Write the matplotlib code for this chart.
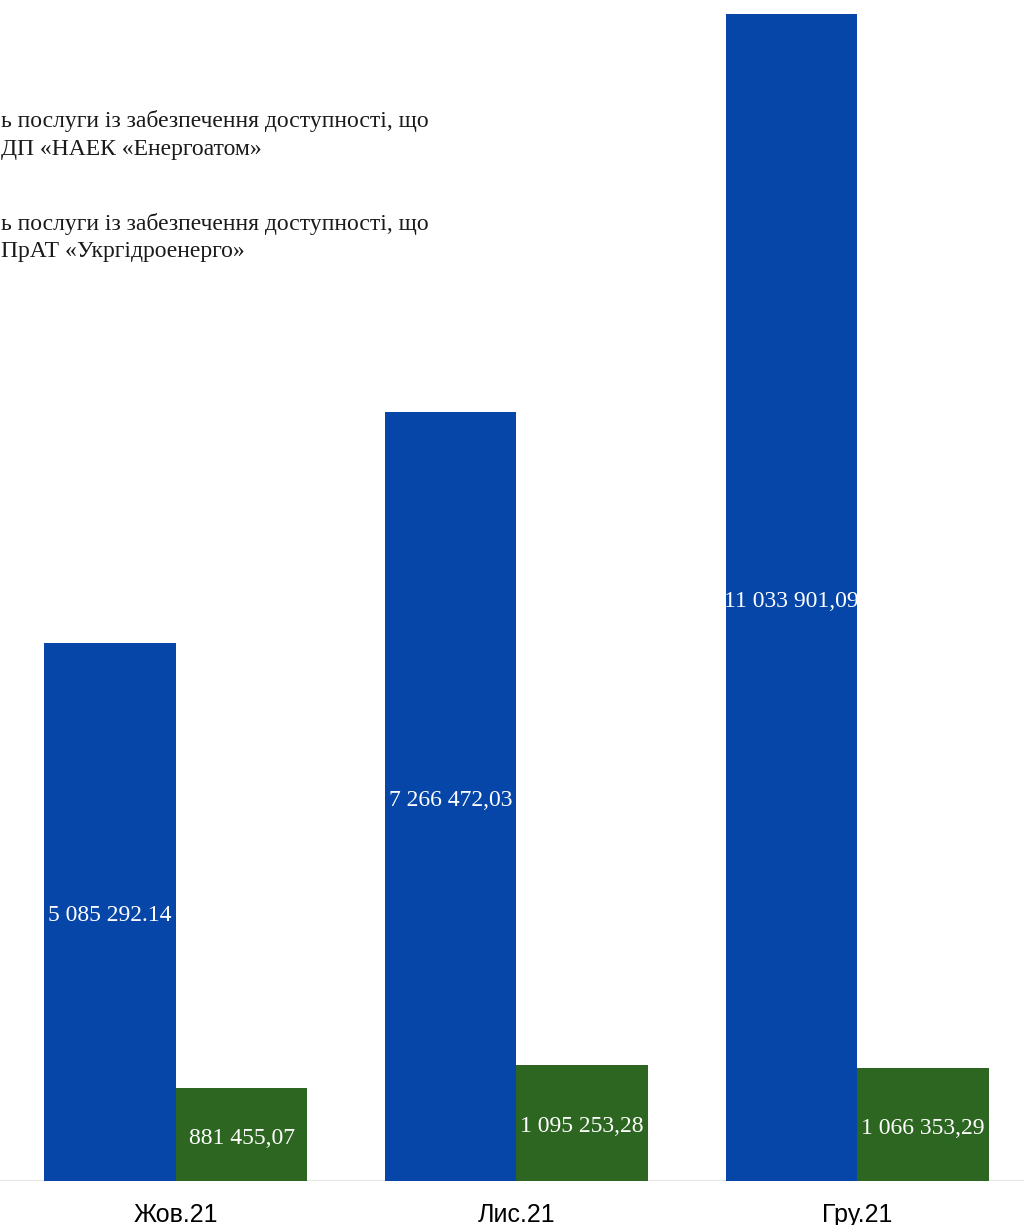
import matplotlib
matplotlib.use("Agg")
import matplotlib.pyplot as plt
import numpy as np

months = ["Жов.21", "Лис.21", "Гру.21"]
energoatom = [5085292.14, 7266472.03, 11033901.09]
ukrhydro = [881455.07, 1095253.28, 1066353.29]
energoatom_lbl = ["5 085 292.14", "7 266 472,03", "11 033 901,09"]
ukrhydro_lbl = ["881 455,07", "1 095 253,28", "1 066 353,29"]
legend_lines = [
    ["ь послуги із забезпечення доступності, що", "ДП «НАЕК «Енергоатом»"],
    ["ь послуги із забезпечення доступності, що", "ПрАТ «Укргідроенерго»"],
]

blue = "#0646A9"
green = "#2C6620"
w = 0.386

fig = plt.figure(figsize=(10.24, 12.25), dpi=100)
ax = fig.add_axes([0, 44 / 1225, 1, 1181 / 1225])

x = np.arange(len(months))
b1 = ax.bar(x - w / 2, energoatom, w, color=blue, zorder=2)
b2 = ax.bar(x + w / 2, ukrhydro, w, color=green, zorder=2)

for bars, labels in ((b1, energoatom_lbl), (b2, ukrhydro_lbl)):
    for r, t in zip(bars, labels):
        ax.text(r.get_x() + r.get_width() / 2, r.get_height() / 2 - 35000, t,
                ha="center", va="center", color="white",
                family="Liberation Serif", fontsize=17, zorder=3)

ax.set_xlim(-0.516, 2.49)
ax.set_ylim(0, 1181 / 105.77 * 1e6)
ax.axhline(0, color="#e6e6e6", lw=1.5, zorder=1)
for s in ax.spines.values():
    s.set_visible(False)
ax.set_yticks([])
ax.set_xticks(x)
ax.set_xticklabels(months, family="Liberation Sans", fontsize=18)
ax.tick_params(axis="x", length=0, pad=16)

ys = [121, 224]
for (l1, l2), y in zip(legend_lines, ys):
    fig.text(0.001, 1 - y / 1225, l1, family="Liberation Serif", fontsize=17,
             va="center", ha="left", color="#1a1a1a")
    fig.text(0.001, 1 - (y + 28) / 1225, l2, family="Liberation Serif", fontsize=17,
             va="center", ha="left", color="#1a1a1a")

fig.savefig("out.png", dpi=100)
